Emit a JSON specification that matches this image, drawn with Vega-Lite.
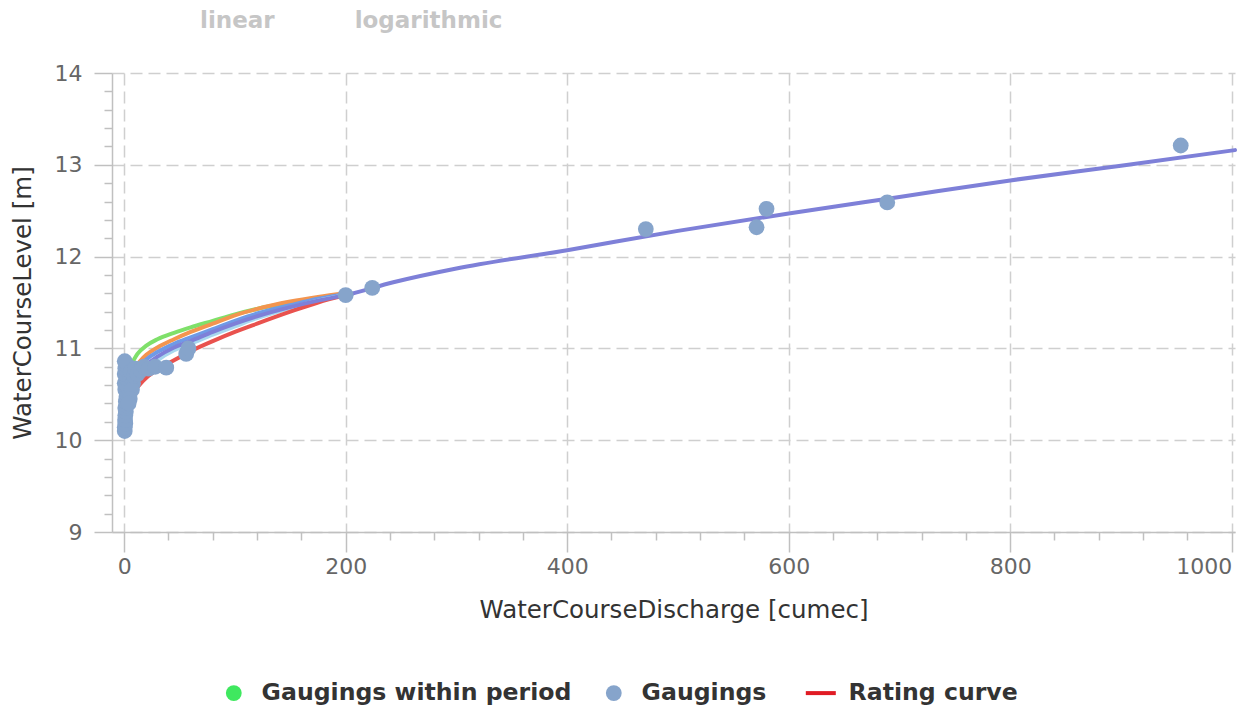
{
  "$schema": "https://vega.github.io/schema/vega-lite/v6.json",
  "width": 1123,
  "height": 459,
  "autosize": {"type": "none"},
  "padding": {"left": 112, "top": 73, "right": 4, "bottom": 175},
  "background": "white",
  "title": {
    "text": "linear\u00a0\u00a0\u00a0\u00a0\u00a0\u00a0\u00a0\u00a0\u00a0\u00a0logarithmic",
    "anchor": "start",
    "frame": "group",
    "dx": 88,
    "offset": 29,
    "font": "DejaVu Sans",
    "fontSize": 23,
    "fontWeight": "bold",
    "color": "#c6c6c6"
  },
  "config": {
    "view": {"stroke": null},
    "axis": {
      "labelFont": "DejaVu Sans",
      "titleFont": "DejaVu Sans",
      "labelFontSize": 22,
      "titleFontSize": 24.5,
      "labelColor": "#666666",
      "titleColor": "#333333",
      "titleFontWeight": "normal",
      "tickColor": "#c0c0c0",
      "domainColor": "#c0c0c0",
      "domainWidth": 1.5,
      "tickWidth": 1.5,
      "gridColor": "#cfcfcf",
      "gridWidth": 1.5,
      "gridDash": [12, 6]
    }
  },
  "datasets": {
    "curves": [
      {"curve": "A", "discharge": 8, "level": 10.86},
      {"curve": "A", "discharge": 12, "level": 10.94},
      {"curve": "A", "discharge": 20, "level": 11.03},
      {"curve": "A", "discharge": 30, "level": 11.10},
      {"curve": "A", "discharge": 45, "level": 11.17},
      {"curve": "A", "discharge": 60, "level": 11.23},
      {"curve": "A", "discharge": 80, "level": 11.30},
      {"curve": "A", "discharge": 100, "level": 11.37},
      {"curve": "A", "discharge": 120, "level": 11.43},
      {"curve": "A", "discharge": 150, "level": 11.50},
      {"curve": "A", "discharge": 175, "level": 11.55},
      {"curve": "A", "discharge": 200, "level": 11.59},
      {"curve": "B", "discharge": 10, "level": 10.80},
      {"curve": "B", "discharge": 15, "level": 10.87},
      {"curve": "B", "discharge": 20, "level": 10.93},
      {"curve": "B", "discharge": 30, "level": 11.01},
      {"curve": "B", "discharge": 45, "level": 11.10},
      {"curve": "B", "discharge": 60, "level": 11.18},
      {"curve": "B", "discharge": 80, "level": 11.27},
      {"curve": "B", "discharge": 100, "level": 11.36},
      {"curve": "B", "discharge": 120, "level": 11.43},
      {"curve": "B", "discharge": 150, "level": 11.51},
      {"curve": "B", "discharge": 175, "level": 11.56},
      {"curve": "B", "discharge": 200, "level": 11.60},
      {"curve": "C", "discharge": 12, "level": 10.77},
      {"curve": "C", "discharge": 20, "level": 10.88},
      {"curve": "C", "discharge": 30, "level": 10.96},
      {"curve": "C", "discharge": 45, "level": 11.05},
      {"curve": "C", "discharge": 60, "level": 11.12},
      {"curve": "C", "discharge": 80, "level": 11.21},
      {"curve": "C", "discharge": 100, "level": 11.30},
      {"curve": "C", "discharge": 120, "level": 11.38},
      {"curve": "C", "discharge": 150, "level": 11.47},
      {"curve": "C", "discharge": 175, "level": 11.54},
      {"curve": "C", "discharge": 200, "level": 11.59},
      {"curve": "D", "discharge": 18, "level": 10.74},
      {"curve": "D", "discharge": 30, "level": 10.87},
      {"curve": "D", "discharge": 45, "level": 10.98},
      {"curve": "D", "discharge": 60, "level": 11.05},
      {"curve": "D", "discharge": 80, "level": 11.15},
      {"curve": "D", "discharge": 100, "level": 11.24},
      {"curve": "D", "discharge": 120, "level": 11.33},
      {"curve": "D", "discharge": 150, "level": 11.44},
      {"curve": "D", "discharge": 175, "level": 11.52},
      {"curve": "D", "discharge": 200, "level": 11.58},
      {"curve": "E", "discharge": 10, "level": 10.55},
      {"curve": "E", "discharge": 15, "level": 10.62},
      {"curve": "E", "discharge": 20, "level": 10.68},
      {"curve": "E", "discharge": 30, "level": 10.77},
      {"curve": "E", "discharge": 45, "level": 10.87},
      {"curve": "E", "discharge": 60, "level": 10.97},
      {"curve": "E", "discharge": 80, "level": 11.08},
      {"curve": "E", "discharge": 100, "level": 11.18},
      {"curve": "E", "discharge": 120, "level": 11.27},
      {"curve": "E", "discharge": 150, "level": 11.40},
      {"curve": "E", "discharge": 175, "level": 11.50},
      {"curve": "E", "discharge": 200, "level": 11.58},
      {"curve": "F", "discharge": 14, "level": 10.74},
      {"curve": "F", "discharge": 20, "level": 10.82},
      {"curve": "F", "discharge": 30, "level": 10.91},
      {"curve": "F", "discharge": 45, "level": 11.01},
      {"curve": "F", "discharge": 60, "level": 11.08},
      {"curve": "F", "discharge": 80, "level": 11.18},
      {"curve": "F", "discharge": 100, "level": 11.27},
      {"curve": "F", "discharge": 120, "level": 11.35},
      {"curve": "F", "discharge": 150, "level": 11.45},
      {"curve": "F", "discharge": 175, "level": 11.52},
      {"curve": "F", "discharge": 200, "level": 11.58},
      {"curve": "F", "discharge": 243, "level": 11.72},
      {"curve": "F", "discharge": 300, "level": 11.87},
      {"curve": "F", "discharge": 400, "level": 12.07},
      {"curve": "F", "discharge": 500, "level": 12.28},
      {"curve": "F", "discharge": 600, "level": 12.47},
      {"curve": "F", "discharge": 700, "level": 12.65},
      {"curve": "F", "discharge": 800, "level": 12.83},
      {"curve": "F", "discharge": 900, "level": 12.99},
      {"curve": "F", "discharge": 1003, "level": 13.16}
    ],
    "gaugings": [
      {"series": "Gaugings", "discharge": 0.5, "level": 10.10},
      {"series": "Gaugings", "discharge": 0.5, "level": 10.14},
      {"series": "Gaugings", "discharge": 1, "level": 10.18},
      {"series": "Gaugings", "discharge": 0.8, "level": 10.22},
      {"series": "Gaugings", "discharge": 1, "level": 10.27},
      {"series": "Gaugings", "discharge": 1.5, "level": 10.31},
      {"series": "Gaugings", "discharge": 1, "level": 10.35},
      {"series": "Gaugings", "discharge": 2, "level": 10.38},
      {"series": "Gaugings", "discharge": 1.5, "level": 10.42},
      {"series": "Gaugings", "discharge": 2, "level": 10.47},
      {"series": "Gaugings", "discharge": 2.5, "level": 10.50},
      {"series": "Gaugings", "discharge": 1, "level": 10.55},
      {"series": "Gaugings", "discharge": 3, "level": 10.58},
      {"series": "Gaugings", "discharge": 0.5, "level": 10.62},
      {"series": "Gaugings", "discharge": 4, "level": 10.62},
      {"series": "Gaugings", "discharge": 2, "level": 10.68},
      {"series": "Gaugings", "discharge": 0.5, "level": 10.72},
      {"series": "Gaugings", "discharge": 5, "level": 10.70},
      {"series": "Gaugings", "discharge": 1, "level": 10.78},
      {"series": "Gaugings", "discharge": 3, "level": 10.81},
      {"series": "Gaugings", "discharge": 0.5, "level": 10.86},
      {"series": "Gaugings", "discharge": 6, "level": 10.75},
      {"series": "Gaugings", "discharge": 8, "level": 10.62},
      {"series": "Gaugings", "discharge": 7, "level": 10.55},
      {"series": "Gaugings", "discharge": 5, "level": 10.45},
      {"series": "Gaugings", "discharge": 4, "level": 10.40},
      {"series": "Gaugings", "discharge": 9, "level": 10.70},
      {"series": "Gaugings", "discharge": 10, "level": 10.78},
      {"series": "Gaugings", "discharge": 12, "level": 10.72},
      {"series": "Gaugings", "discharge": 15, "level": 10.76},
      {"series": "Gaugings", "discharge": 18, "level": 10.80},
      {"series": "Gaugings", "discharge": 22, "level": 10.78},
      {"series": "Gaugings", "discharge": 28, "level": 10.80},
      {"series": "Gaugings", "discharge": 38, "level": 10.79},
      {"series": "Gaugings", "discharge": 56, "level": 10.94},
      {"series": "Gaugings", "discharge": 58, "level": 11.00},
      {"series": "Gaugings", "discharge": 200, "level": 11.58},
      {"series": "Gaugings", "discharge": 224, "level": 11.66},
      {"series": "Gaugings", "discharge": 471, "level": 12.30},
      {"series": "Gaugings", "discharge": 571, "level": 12.32},
      {"series": "Gaugings", "discharge": 580, "level": 12.52},
      {"series": "Gaugings", "discharge": 689, "level": 12.59},
      {"series": "Gaugings", "discharge": 954, "level": 13.21}
    ]
  },
  "resolve": {
    "scale": {"color": "independent"},
    "axis": {"x": "independent", "y": "independent"}
  },
  "layer": [
    {
      "data": {"name": "curves"},
      "mark": {"type": "line", "strokeWidth": 4, "interpolate": "monotone", "strokeCap": "round"},
      "encoding": {
        "x": {
          "field": "discharge", "type": "quantitative",
          "scale": {"domain": [-11, 1003], "nice": false, "zero": false},
          "axis": {
            "orient": "bottom",
            "title": "WaterCourseDischarge [cumec]",
            "values": [0, 200, 400, 600, 800, 1000],
            "format": "d",
            "labelFlush": 5,
            "grid": true, "tickSize": 20, "labelPadding": 4, "titlePadding": 21
          }
        },
        "y": {
          "field": "level", "type": "quantitative",
          "scale": {"domain": [9, 14], "nice": false, "zero": false},
          "axis": {
            "orient": "left",
            "title": "WaterCourseLevel [m]",
            "values": [9, 10, 11, 12, 13, 14],
            "format": "d",
            "grid": true, "tickSize": 18, "labelPadding": 12, "titlePadding": 19
          }
        },
        "color": {
          "field": "curve", "type": "nominal",
          "scale": {"domain": ["A", "B", "C", "D", "E", "F"], "range": ["#7fe06a", "#f3954f", "#6f9ae6", "#a8d8ee", "#e9524e", "#7e80d8"]},
          "legend": null
        }
      }
    },
    {
      "data": {"name": "gaugings"},
      "mark": {"type": "point", "filled": true, "size": 250, "opacity": 1},
      "encoding": {
        "x": {
          "field": "discharge", "type": "quantitative",
          "axis": {
            "orient": "bottom", "title": null, "labels": false, "grid": false, "domain": false,
            "tickSize": 8,
            "values": [40, 80, 120, 160, 240, 280, 320, 360, 440, 480, 520, 560, 640, 680, 720, 760, 840, 880, 920, 960]
          }
        },
        "y": {
          "field": "level", "type": "quantitative",
          "axis": {
            "orient": "left", "title": null, "labels": false, "grid": false, "domain": false,
            "tickSize": 8,
            "values": [9.2, 9.4, 9.6, 9.8, 10.2, 10.4, 10.6, 10.8, 11.2, 11.4, 11.6, 11.8, 12.2, 12.4, 12.6, 12.8, 13.2, 13.4, 13.6, 13.8]
          }
        },
        "color": {
          "field": "series", "type": "nominal",
          "scale": {"domain": ["Gaugings within period", "Gaugings", "Rating curve"], "range": ["#3fe85f", "#86a4cb", "#e01b24"]},
          "legend": {
            "title": null,
            "orient": "none",
            "direction": "horizontal",
            "legendX": 110,
            "legendY": 608,
            "padding": 0,
            "symbolSize": 900,
            "symbolType": "circle",
            "labelFont": "DejaVu Sans",
            "labelFontSize": 23.6,
            "labelFontWeight": "bold",
            "labelColor": "#333333",
            "labelOffset": 16,
            "labelLimit": 600,
            "columnPadding": 30,
            "symbolOpacity": 1,
            "encode": {
              "symbols": {
                "update": {
                  "shape": {"signal": "datum.value === 'Rating curve' ? 'stroke' : 'circle'"},
                  "size": {"signal": "datum.value === 'Rating curve' ? 900 : 250"},
                  "stroke": {"value": "#e01b24"},
                  "strokeWidth": {"signal": "datum.value === 'Rating curve' ? 4 : 0"}
                }
              }
            }
          }
        }
      }
    }
  ]
}
